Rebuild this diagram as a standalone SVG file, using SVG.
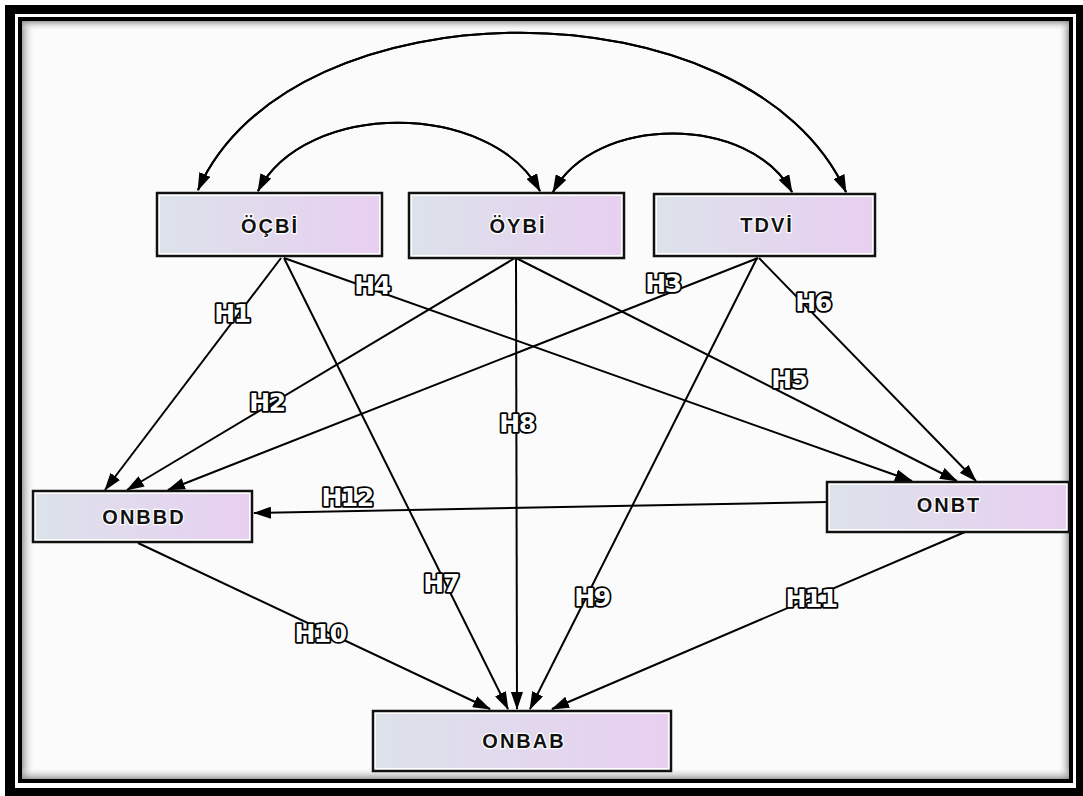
<svg xmlns="http://www.w3.org/2000/svg" width="1083" height="796" viewBox="0 0 1083 796">
<defs>
<linearGradient id="nodeFill" x1="0" y1="0" x2="1" y2="0">
<stop offset="0" stop-color="#dce2ea"/>
<stop offset="1" stop-color="#e8cff1"/>
</linearGradient>
<linearGradient id="shL" x1="0" y1="0" x2="1" y2="0"><stop offset="0" stop-color="#888" stop-opacity="0.8"/><stop offset="1" stop-color="#fff" stop-opacity="0"/></linearGradient>
<linearGradient id="shR" x1="1" y1="0" x2="0" y2="0"><stop offset="0" stop-color="#888" stop-opacity="0.8"/><stop offset="1" stop-color="#fff" stop-opacity="0"/></linearGradient>
<linearGradient id="shT" x1="0" y1="0" x2="0" y2="1"><stop offset="0" stop-color="#888" stop-opacity="0.8"/><stop offset="1" stop-color="#fff" stop-opacity="0"/></linearGradient>
<linearGradient id="shB" x1="0" y1="1" x2="0" y2="0"><stop offset="0" stop-color="#888" stop-opacity="0.8"/><stop offset="1" stop-color="#fff" stop-opacity="0"/></linearGradient>
<marker id="ah" viewBox="0 0 18 12" refX="17" refY="6" markerWidth="18" markerHeight="12" markerUnits="userSpaceOnUse" orient="auto">
<path d="M0,0 L18,6 L0,12 z" fill="#000"/>
</marker>
</defs>
<style>
.box{fill:#fff;stroke:#111;stroke-width:2.5}
.fill{fill:url(#nodeFill)}
.nt{font-family:"Liberation Sans",Arial,sans-serif;font-weight:bold;font-size:20px;letter-spacing:2px;fill:#111;stroke:#fff;stroke-width:2.5;paint-order:stroke;text-anchor:middle}
.edge{fill:none;stroke:#000;stroke-width:2;marker-end:url(#ah)}
.lbl{font-family:"DejaVu Sans",sans-serif;font-weight:bold;font-size:25px;fill:#fff;stroke:#000;stroke-width:3.6;paint-order:stroke;stroke-linejoin:round;text-anchor:middle;letter-spacing:-1.5px}
</style>
<g id="frame">
<rect x="5" y="5" width="1078" height="791" fill="#000"/>
<rect x="15" y="14" width="1061" height="774" fill="#fff"/>
<rect x="18" y="17" width="1055" height="766" fill="#000"/>
<rect x="22" y="21" width="1047" height="758" fill="#fbfbfb"/>
<rect x="22" y="21" width="13" height="758" fill="url(#shL)"/>
<rect x="1058" y="21" width="11" height="758" fill="url(#shR)"/>
<rect x="22" y="21" width="1047" height="10" fill="url(#shT)"/>
<rect x="22" y="767" width="1047" height="12" fill="url(#shB)"/>
</g>
<g id="connectors">
<path class="edge" d="M198,190 C290,-20 750,-20 846,192"/>
<path class="edge" d="M846,192 C750,-20 290,-20 198,190"/>
<path class="edge" d="M258,191 C305,100 490,100 540,191"/>
<path class="edge" d="M540,191 C490,100 305,100 258,191"/>
<path class="edge" d="M553,192 C595,114 750,114 792,192"/>
<path class="edge" d="M792,192 C750,114 595,114 553,192"/>
<line class="edge" x1="281" y1="258" x2="105" y2="490"/>
<line class="edge" x1="515" y1="258" x2="127" y2="490"/>
<line class="edge" x1="758" y1="258" x2="168" y2="490"/>
<line class="edge" x1="284" y1="258" x2="912" y2="481"/>
<line class="edge" x1="516" y1="258" x2="957" y2="481"/>
<line class="edge" x1="759" y1="258" x2="976" y2="481"/>
<line class="edge" x1="284" y1="258" x2="508" y2="709"/>
<line class="edge" x1="516" y1="258" x2="517" y2="709"/>
<line class="edge" x1="757" y1="258" x2="530" y2="709"/>
<line class="edge" x1="138" y1="543" x2="490" y2="709"/>
<line class="edge" x1="965" y1="532" x2="552" y2="709"/>
<line class="edge" x1="827" y1="502" x2="254" y2="513"/>
<text class="lbl" x="232" y="322">H1</text>
<text class="lbl" x="267" y="411">H2</text>
<text class="lbl" x="663" y="292">H3</text>
<text class="lbl" x="372" y="294">H4</text>
<text class="lbl" x="789" y="388">H5</text>
<text class="lbl" x="813" y="311">H6</text>
<text class="lbl" x="441" y="592">H7</text>
<text class="lbl" x="517" y="432">H8</text>
<text class="lbl" x="592" y="606">H9</text>
<text class="lbl" x="320" y="642">H10</text>
<text class="lbl" x="811" y="607">H11</text>
<text class="lbl" x="347" y="506">H12</text>
</g>
<g id="OCBI">
<rect class="box" x="157" y="193" width="225" height="63"/>
<rect class="fill" x="160" y="196" width="219" height="57"/>
<text class="nt" x="270" y="233">ÖÇBİ</text>
</g>
<g id="OYBI">
<rect class="box" x="409" y="193" width="215" height="65"/>
<rect class="fill" x="412" y="196" width="209" height="59"/>
<text class="nt" x="518" y="233">ÖYBİ</text>
</g>
<g id="TDVI">
<rect class="box" x="654" y="194" width="221" height="62"/>
<rect class="fill" x="657" y="197" width="215" height="56"/>
<text class="nt" x="767" y="232">TDVİ</text>
</g>
<g id="ONBBD">
<rect class="box" x="33" y="491" width="219" height="51"/>
<rect class="fill" x="36" y="494" width="213" height="45"/>
<text class="nt" x="144" y="524">ONBBD</text>
</g>
<g id="ONBT">
<rect class="box" x="827" y="482" width="242" height="50"/>
<rect class="fill" x="830" y="485" width="236" height="44"/>
<text class="nt" x="949" y="512">ONBT</text>
</g>
<g id="ONBAB">
<rect class="box" x="373" y="711" width="298" height="60"/>
<rect class="fill" x="376" y="714" width="292" height="54"/>
<text class="nt" x="524" y="748">ONBAB</text>
</g>
</svg>
